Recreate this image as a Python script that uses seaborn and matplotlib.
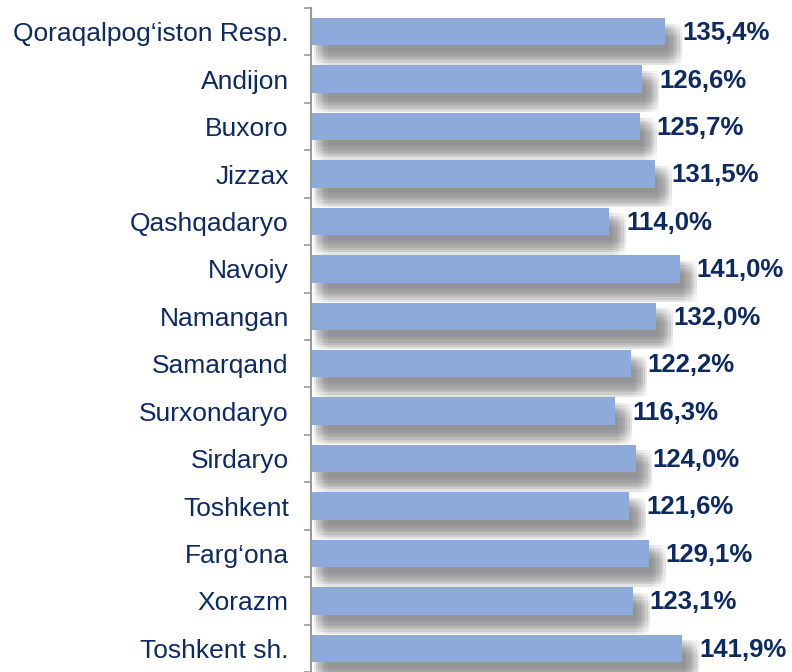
import matplotlib
matplotlib.use("Agg")
import matplotlib.pyplot as plt
import matplotlib.patheffects as pe
import seaborn as sns
import pandas as pd
import numpy as np

# Data
regions = ["Qoraqalpog‘iston Resp.", "Andijon", "Buxoro", "Jizzax", "Qashqadaryo",
           "Navoiy", "Namangan", "Samarqand", "Surxondaryo", "Sirdaryo",
           "Toshkent", "Farg‘ona", "Xorazm", "Toshkent sh."]
values = [135.4, 126.6, 125.7, 131.5, 114.0, 141.0, 132.0, 122.2, 116.3, 124.0,
          121.6, 129.1, 123.1, 141.9]
labels = ["135,4%", "126,6%", "125,7%", "131,5%", "114,0%", "141,0%", "132,0%",
          "122,2%", "116,3%", "124,0%", "121,6%", "129,1%", "123,1%", "141,9%"]

df = pd.DataFrame({"region": regions, "value": values})

sns.set_style("white")
plt.rcParams['font.family'] = ['Liberation Sans', 'DejaVu Sans']

navy = "#0E2A63"
bar_color = "#8EAADB"

fig = plt.figure(figsize=(7.92, 6.72), dpi=100)
ax = fig.add_axes([311 / 792, 0, 481 / 792, 664 / 672])

sns.barplot(data=df, y="region", x="value", orient="h", color=bar_color,
            saturation=1, width=0.58, linewidth=0, ax=ax)

# soft drop shadow: many faint shifted copies give a blurred edge
shadow = []
steps = np.linspace(-5, 5, 7)
for dx in steps:
    for dy in steps:
        shadow.append(pe.SimplePatchShadow(offset=(7 + dx, -9 + dy),
                                           shadow_rgbFace="#8a8a8a", alpha=0.035))
shadow.append(pe.Normal())
for p in ax.patches:
    p.set_path_effects(shadow)

for i, (v, lab) in enumerate(zip(values, labels)):
    ax.annotate(lab, xy=(v, i), xytext=(12, -1), textcoords="offset points",
                ha="left", va="center", fontsize=18.5, fontweight="bold", color=navy)

ax.set_xlim(0, 481 / 2.617)
ax.set_ylim(13.5 - 6 / 47.85, -0.5)
ax.set_xlabel("")
ax.set_ylabel("")
ax.set_xticks([])

for s in ["top", "right", "bottom"]:
    ax.spines[s].set_visible(False)
ax.spines["left"].set_color("#999999")
ax.spines["left"].set_linewidth(1.5)

ax.set_yticks([i - 0.5 for i in range(15)], minor=True)
ax.tick_params(axis="y", which="minor", left=True, length=5, width=1.2, color="#999999")
ax.tick_params(axis="y", which="major", left=False, length=0, pad=16,
               labelsize=19, labelcolor=navy)

fig.savefig("out.png", dpi=100)
